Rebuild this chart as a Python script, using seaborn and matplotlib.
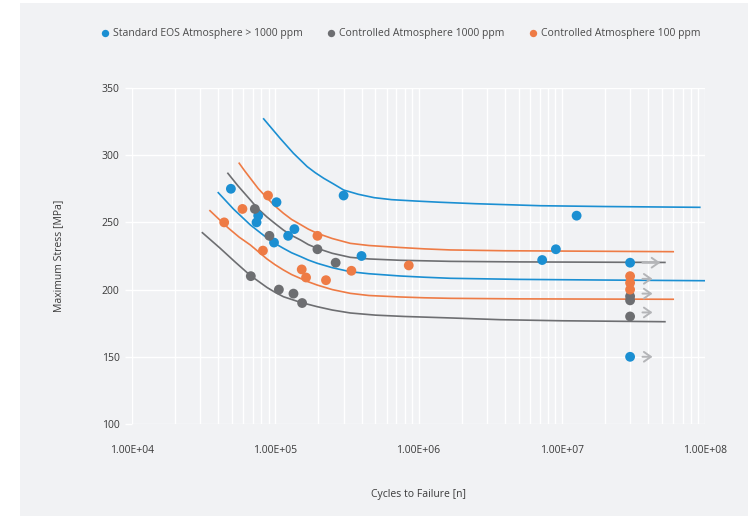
import numpy as np
import pandas as pd
import matplotlib
matplotlib.use("Agg")
import matplotlib.pyplot as plt
from matplotlib.patches import Rectangle
from matplotlib.ticker import LogLocator, FuncFormatter, NullFormatter
import seaborn as sns

plt.rcParams['font.family'] = ['Open Sans', 'DejaVu Sans']

# ---- data ----
groups = ['Standard EOS Atmosphere > 1000 ppm',
          'Controlled Atmosphere 1000 ppm',
          'Controlled Atmosphere 100 ppm']
colors = ['#1b8fd2', '#6d6e71', '#ee7b45']

blue_cycles = [4.9e4, 1.02e5, 7.6e4, 7.4e4, 1.36e5, 1.23e5, 9.8e4, 3.0e5, 4.0e5,
               1.27e7, 9.1e6, 7.3e6, 3.0e7, 3.0e7]
blue_stress = [275, 265, 255, 250, 245, 240, 235, 270, 225,
               255, 230, 222, 220, 150]

grey_cycles = [7.2e4, 9.1e4, 6.75e4, 1.06e5, 1.34e5, 1.54e5, 1.97e5, 2.64e5,
               3.0e7, 3.0e7, 3.0e7]
grey_stress = [260, 240, 210, 200, 197, 190, 230, 220,
               195, 192, 180]

orange_cycles = [8.9e4, 5.9e4, 4.4e4, 8.2e4, 1.97e5, 1.53e5, 1.64e5, 2.26e5,
                 3.4e5, 8.55e5, 3.0e7, 3.0e7, 3.0e7]
orange_stress = [270, 260, 250, 229, 240, 215, 209, 207,
                 214, 218, 210, 205, 200]

# fitted curves
blue_up_x = [8.3e4, 1.08e5, 1.34e5, 1.67e5, 1.9e5, 2.18e5, 2.55e5, 3.0e5, 3.8e5, 4.9e5,
             6.5e5, 9.5e5, 1.4e6, 2.5e6, 7.1e6, 2e7, 9.2e7]
blue_up_y = [327, 312.6, 301.4, 291.5, 287, 282.8, 278.6, 274.1, 270.9, 268.4,
             266.9, 265.9, 265, 263.9, 262.4, 261.8, 261.2]

orange_up_x = [5.6e4, 6.1e4, 6.7e4, 7.6e4, 8.75e4, 1e5, 1.14e5, 1.3e5, 1.5e5, 1.7e5, 1.96e5,
               2.5e5, 3.34e5, 4.5e5, 7.5e5, 1.1e6, 1.67e6, 4e6, 6e7]
orange_up_y = [294, 288.5, 282.8, 275.2, 268.2, 262, 256.8, 252.2, 248.4, 245, 241.9,
               238, 234.4, 232.8, 231.3, 230.3, 229.5, 228.9, 228.2]

grey_up_x = [4.67e4, 5.5e4, 6.7e4, 7.6e4, 8.75e4, 1e5, 1.14e5, 1.3e5, 1.5e5, 1.7e5, 1.96e5,
             2.5e5, 3.34e5, 4.5e5, 7.5e5, 1.67e6, 5e6, 5.25e7]
grey_up_y = [286.5, 277.1, 266.7, 260, 254, 249, 244.3, 240.3, 236.9, 233.5, 230.7,
             227, 224, 222.8, 221.8, 221, 220.6, 220.2]

blue_lo_x = [4.0e4, 5.1e4, 6.7e4, 8.75e4, 1e5, 1.14e5, 1.3e5, 1.5e5, 1.7e5, 1.96e5, 2.5e5,
             3.34e5, 4.5e5, 7.5e5, 1.1e6, 1.67e6, 5e6, 2e7, 1e8]
blue_lo_y = [272.1, 260, 248.1, 238.4, 234.2, 230.7, 227.4, 224.6, 222, 219.6, 216.3,
             213.3, 211.8, 210.1, 209.2, 208.4, 207.6, 207.1, 206.6]

orange_lo_x = [3.5e4, 4.7e4, 5.6e4, 6.7e4, 8.75e4, 1e5, 1.14e5, 1.3e5, 1.5e5, 1.7e5, 1.96e5,
               2.5e5, 3.34e5, 4.5e5, 7.5e5, 1.1e6, 1.67e6, 5e6, 6e7]
orange_lo_y = [258.7, 245.8, 239, 233.2, 222.8, 218.4, 214.6, 211.2, 208.3, 205.8, 203.4,
               200, 197.2, 195.6, 194.5, 193.9, 193.5, 193.1, 192.8]

grey_lo_x = [3.1e4, 4.1e4, 5.25e4, 6.7e4, 8.75e4, 1e5, 1.14e5, 1.5e5, 1.96e5, 2.5e5, 3.34e5,
             5e5, 8e5, 1.67e6, 3.74e6, 1e7, 5.25e7]
grey_lo_y = [242.3, 231, 220.5, 210.5, 201.6, 197.9, 194.7, 190.5, 187.3, 184.8, 182.6,
             181, 180, 178.9, 177.6, 176.8, 176.1]

# run-out arrows (stress level, start cycles, end cycles)
runout_stress = [220, 208, 197, 183, 150]
runout_start = [3.5e7, 3.5e7, 3.5e7, 3.5e7, 3.5e7]
runout_end = [5.1e7, 4.5e7, 4.5e7, 4.5e7, 4.5e7]

x_ticks = [1e4, 1e5, 1e6, 1e7, 1e8]
y_ticks = [100, 150, 200, 250, 300, 350]

# ---- build tables ----
points = pd.concat([
    pd.DataFrame({'cycles': blue_cycles, 'stress': blue_stress, 'group': groups[0]}),
    pd.DataFrame({'cycles': grey_cycles, 'stress': grey_stress, 'group': groups[1]}),
    pd.DataFrame({'cycles': orange_cycles, 'stress': orange_stress, 'group': groups[2]}),
], ignore_index=True)

curves = [(blue_up_x, blue_up_y, colors[0]), (orange_up_x, orange_up_y, colors[2]),
          (grey_up_x, grey_up_y, colors[1]), (blue_lo_x, blue_lo_y, colors[0]),
          (orange_lo_x, orange_lo_y, colors[2]), (grey_lo_x, grey_lo_y, colors[1])]

bg = '#f1f2f4'
text_col = '#3a3a3a'

fig = plt.figure(figsize=(7.48, 5.16), dpi=100, facecolor='white')
fig.patches.append(Rectangle((20 / 748, 0.0), 1, 1 - 3 / 516, transform=fig.transFigure,
                             facecolor=bg, edgecolor='none', zorder=-10))
ax = fig.add_axes([0.1765, 0.1783, 0.766, 0.6512])
ax.set_facecolor(bg)

for cx, cy, col in curves:
    sns.lineplot(x=cx, y=cy, color=col, linewidth=1.2, sort=False, estimator=None, ax=ax)

sns.scatterplot(data=points, x='cycles', y='stress', hue='group', hue_order=groups,
                palette=colors, s=50, linewidth=0, alpha=1, ax=ax, zorder=3)

for yv, x0, x1 in zip(runout_stress, runout_start, runout_end):
    ax.annotate('', xy=(x1, yv), xytext=(x0, yv),
                arrowprops=dict(arrowstyle='->,head_length=0.5,head_width=0.35',
                                color='#b4b5b8', lw=1.4))

ax.set_xscale('log')
ax.set_xlim(1e4, 1e8)
ax.set_ylim(100, 350)
ax.set_xticks(x_ticks)
ax.set_yticks(y_ticks)
ax.xaxis.set_minor_locator(LogLocator(base=10, subs=np.arange(2, 10)))
ax.xaxis.set_minor_formatter(NullFormatter())
ax.xaxis.set_major_formatter(FuncFormatter(lambda v, p: f'{v:.2E}'))
ax.set_axisbelow(True)
ax.grid(axis='x', which='both', color='white', linewidth=1)
ax.grid(axis='y', which='major', color='white', linewidth=1)
for s in ax.spines.values():
    s.set_visible(False)
ax.tick_params(axis='x', which='both', length=0, pad=15, labelsize=7.5, labelcolor=text_col)
ax.tick_params(axis='y', length=5, width=1, color='white', pad=4, labelsize=7.5,
               labelcolor=text_col)

ax.set_xlabel('Cycles to Failure [n]', fontsize=7.5, color=text_col)
ax.set_ylabel('Maximum Stress [MPa]', fontsize=7.5, color=text_col)
ax.xaxis.set_label_coords(0.5, -0.193)
ax.yaxis.set_label_coords(-0.118, 0.5)

handles, labels = ax.get_legend_handles_labels()
ax.legend(handles, labels, ncol=3, loc='center', bbox_to_anchor=(0.468, 1.161),
          frameon=False, fontsize=7.5, markerscale=0.75, handletextpad=0.3,
          columnspacing=2.2, handlelength=1.0, labelcolor='#4a4a4a')

fig.savefig('out.png', dpi=100, facecolor=fig.get_facecolor())
